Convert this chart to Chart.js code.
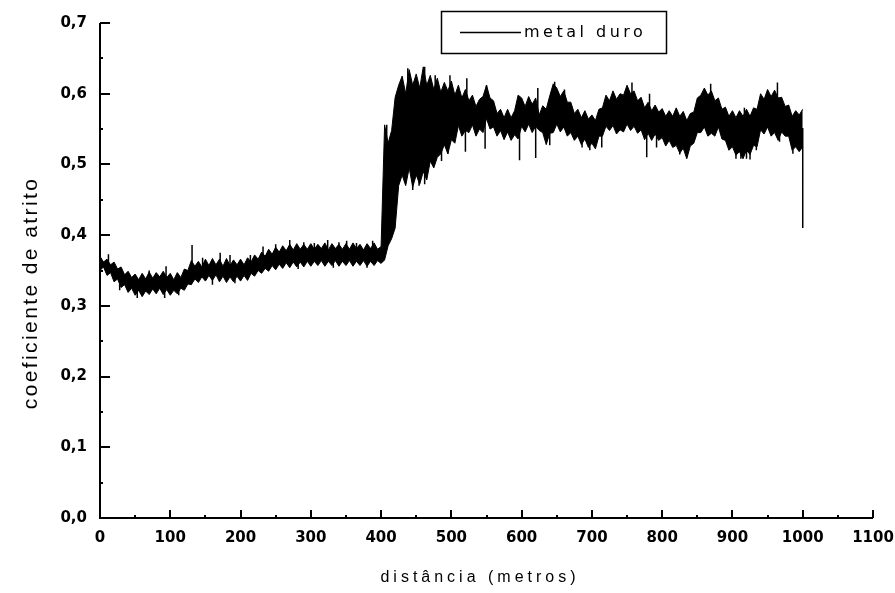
<!DOCTYPE html>
<html>
<head>
<meta charset="utf-8">
<script src="https://cdn.jsdelivr.net/npm/chart.js@4.4.1/dist/chart.umd.min.js"></script>
<style>
  body { margin: 0; background: #fff; }
  #box { width: 895px; height: 593px; }
</style>
</head>
<body>
<div id="box"><canvas id="grafico" width="895" height="593"></canvas></div>
<script>
// distancia em metros, amostrada a cada 5 m (0 .. 1000)
const passo = 5;
const distancia = Array.from({ length: 201 }, (_, i) => i * passo);

// limite superior da faixa de ruido do coeficiente de atrito
const atritoSup = [
  0.370, 0.362, 0.366, 0.358, 0.362, 0.352, 0.355, 0.344, 0.349, 0.340,
  0.345, 0.337, 0.346, 0.338, 0.348, 0.339, 0.347, 0.341, 0.349, 0.340,
  0.346, 0.337, 0.347, 0.340, 0.352, 0.350, 0.364, 0.356, 0.363, 0.355,
  0.366, 0.357, 0.367, 0.358, 0.366, 0.356, 0.367, 0.357, 0.365, 0.358,
  0.366, 0.358, 0.368, 0.362, 0.372, 0.366, 0.376, 0.370, 0.380, 0.373,
  0.383, 0.376, 0.385, 0.378, 0.387, 0.379, 0.388, 0.380, 0.387, 0.380,
  0.388, 0.380, 0.387, 0.381, 0.389, 0.379, 0.388, 0.381, 0.387, 0.380,
  0.388, 0.380, 0.389, 0.381, 0.387, 0.379, 0.388, 0.381, 0.389, 0.380,
  0.384, 0.556, 0.530, 0.548, 0.595, 0.612, 0.625, 0.600, 0.634, 0.612,
  0.628, 0.608, 0.638, 0.612, 0.626, 0.606, 0.622, 0.602, 0.616, 0.604,
  0.618, 0.598, 0.612, 0.594, 0.606, 0.590, 0.598, 0.582, 0.592, 0.596,
  0.612, 0.594, 0.590, 0.572, 0.578, 0.566, 0.578, 0.566, 0.576, 0.598,
  0.594, 0.582, 0.596, 0.585, 0.594, 0.570, 0.583, 0.578, 0.597, 0.614,
  0.608, 0.596, 0.604, 0.588, 0.588, 0.572, 0.578, 0.566, 0.576, 0.564,
  0.570, 0.562, 0.578, 0.580, 0.598, 0.590, 0.604, 0.592, 0.600, 0.598,
  0.612, 0.600, 0.604, 0.590, 0.595, 0.580, 0.588, 0.576, 0.584, 0.574,
  0.579, 0.568, 0.576, 0.568, 0.580, 0.568, 0.575, 0.562, 0.572, 0.574,
  0.594, 0.598, 0.608, 0.598, 0.604, 0.590, 0.594, 0.578, 0.581, 0.568,
  0.576, 0.566, 0.576, 0.568, 0.578, 0.568, 0.580, 0.578, 0.600, 0.592,
  0.606, 0.596, 0.605, 0.594, 0.595, 0.582, 0.584, 0.568, 0.576, 0.570,
  0.578
];

// limite inferior da faixa
const atritoInf = [
  0.350, 0.355, 0.343, 0.347, 0.334, 0.338, 0.326, 0.330, 0.319, 0.325,
  0.315, 0.322, 0.313, 0.321, 0.316, 0.324, 0.317, 0.325, 0.316, 0.323,
  0.315, 0.322, 0.317, 0.325, 0.322, 0.331, 0.330, 0.338, 0.333, 0.341,
  0.335, 0.343, 0.336, 0.344, 0.334, 0.342, 0.333, 0.341, 0.334, 0.342,
  0.335, 0.343, 0.336, 0.346, 0.342, 0.350, 0.346, 0.353, 0.349, 0.357,
  0.351, 0.359, 0.353, 0.361, 0.354, 0.362, 0.355, 0.362, 0.355, 0.363,
  0.356, 0.363, 0.357, 0.364, 0.356, 0.363, 0.357, 0.364, 0.356, 0.363,
  0.357, 0.364, 0.356, 0.363, 0.357, 0.364, 0.356, 0.363, 0.357, 0.364,
  0.360, 0.365, 0.385, 0.395, 0.410, 0.470, 0.485, 0.470, 0.495, 0.468,
  0.485, 0.472, 0.490, 0.478, 0.505, 0.495, 0.510, 0.515, 0.528, 0.515,
  0.535, 0.530, 0.555, 0.540, 0.548, 0.545, 0.556, 0.540, 0.550, 0.545,
  0.565, 0.550, 0.553, 0.540, 0.548, 0.535, 0.546, 0.534, 0.542, 0.536,
  0.554, 0.546, 0.557, 0.545, 0.554, 0.548, 0.545, 0.528, 0.544, 0.545,
  0.557, 0.546, 0.553, 0.540, 0.545, 0.534, 0.540, 0.528, 0.536, 0.524,
  0.530, 0.522, 0.540, 0.540, 0.554, 0.548, 0.555, 0.543, 0.549, 0.546,
  0.557, 0.548, 0.554, 0.544, 0.549, 0.535, 0.544, 0.534, 0.543, 0.534,
  0.538, 0.526, 0.534, 0.524, 0.527, 0.516, 0.523, 0.508, 0.526, 0.530,
  0.545, 0.545, 0.553, 0.540, 0.544, 0.540, 0.553, 0.536, 0.534, 0.520,
  0.525, 0.513, 0.518, 0.508, 0.520, 0.514, 0.527, 0.525, 0.549, 0.543,
  0.553, 0.540, 0.545, 0.534, 0.546, 0.540, 0.540, 0.520, 0.525, 0.518,
  0.525
];

// picos isolados (distancia, valor extremo)
const picosX = [12, 28, 53, 70, 92, 94, 112, 131, 146, 160, 171, 185, 192, 214,
  232, 250, 270, 282, 290, 305, 324, 332, 340, 351, 365, 380, 388,
  408, 438, 445, 454, 462, 462, 477, 486, 495, 498, 520, 522, 548, 550,
  597, 620, 623, 640, 647, 661, 686, 697, 714, 757, 778, 782, 792,
  825, 835, 869, 905, 912, 917, 920, 925, 934, 964, 967, 986, 1000];
const picosY = [0.373, 0.322, 0.311, 0.350, 0.311, 0.356, 0.315, 0.386, 0.368, 0.330, 0.375, 0.372, 0.332, 0.372,
  0.384, 0.387, 0.393, 0.352, 0.390, 0.389, 0.393, 0.354, 0.390, 0.392, 0.389, 0.354, 0.392,
  0.556, 0.636, 0.464, 0.470, 0.472, 0.638, 0.626, 0.505, 0.515, 0.626, 0.518, 0.622, 0.522, 0.612,
  0.506, 0.509, 0.608, 0.527, 0.617, 0.606, 0.524, 0.520, 0.524, 0.616, 0.510, 0.600, 0.524,
  0.514, 0.510, 0.614, 0.508, 0.508, 0.580, 0.508, 0.507, 0.520, 0.616, 0.532, 0.515, 0.410];

const yTicks = [0, 0.1, 0.2, 0.3, 0.4, 0.5, 0.6, 0.7];
const xTicks = [0, 100, 200, 300, 400, 500, 600, 700, 800, 900, 1000, 1100];

const serieSup = distancia.map((d, i) => ({ x: d, y: atritoSup[i] }));
const serieInf = distancia.map((d, i) => ({ x: d, y: atritoInf[i] }));

const seriePicos = [];
picosX.forEach((d, i) => {
  const k = Math.round(d / passo);
  const meio = (atritoSup[k] + atritoInf[k]) / 2;
  seriePicos.push({ x: d, y: meio }, { x: d, y: picosY[i] }, { x: d, y: null });
});

function rotuloY(v) {
  const r = Math.round(v * 100);
  if (r % 10 !== 0) return '';
  return (r / 100).toFixed(1).replace('.', ',');
}

function rotuloX(v) {
  return Math.round(v) % 100 === 0 ? String(v) : '';
}

// eixos com marcas para dentro, titulos e legenda
const eixosPlugin = {
  id: 'eixos',
  afterDraw(chart) {
    const ctx = chart.ctx;
    const a = chart.chartArea;
    const xs = chart.scales.x, ys = chart.scales.y;
    ctx.save();
    ctx.strokeStyle = '#000';
    ctx.lineWidth = 2;
    ctx.beginPath();
    ctx.moveTo(a.left, a.top);
    ctx.lineTo(a.left, a.bottom);
    ctx.lineTo(a.right, a.bottom);
    ctx.stroke();

    for (let v = 0; v <= 0.7001; v += 0.05) {
      const y = Math.round(ys.getPixelForValue(v));
      const major = Math.round(v * 100) % 10 === 0;
      ctx.beginPath();
      ctx.moveTo(a.left, y);
      ctx.lineTo(a.left + (major ? 10 : 3), y);
      ctx.stroke();
    }
    for (let v = 50; v <= 1100; v += 50) {
      const x = Math.round(xs.getPixelForValue(v));
      const major = v % 100 === 0;
      ctx.beginPath();
      ctx.moveTo(x, a.bottom);
      ctx.lineTo(x, a.bottom - (major ? 8 : 3));
      ctx.stroke();
    }

    ctx.fillStyle = '#000';
    ctx.font = '21px "Liberation Sans", Arial, sans-serif';
    ctx.letterSpacing = '2.4px';
    ctx.textAlign = 'center';
    ctx.textBaseline = 'middle';
    ctx.save();
    ctx.translate(31, 293);
    ctx.rotate(-Math.PI / 2);
    ctx.fillText('coeficiente de atrito', 0, 0);
    ctx.restore();

    ctx.font = '16px "Liberation Sans", Arial, sans-serif';
    ctx.letterSpacing = '4px';
    ctx.fillText('distância (metros)', 480, 578);

    ctx.letterSpacing = '3.5px';
    ctx.lineWidth = 1.5;
    ctx.strokeRect(441.5, 11.5, 225, 42);
    ctx.beginPath();
    ctx.moveTo(460, 32.5);
    ctx.lineTo(521, 32.5);
    ctx.stroke();
    ctx.font = '16px "DejaVu Sans", sans-serif';
    ctx.textAlign = 'left';
    ctx.fillText('metal duro', 524, 33);
    ctx.restore();
  }
};

new Chart(document.getElementById('grafico'), {
  type: 'line',
  data: {
    datasets: [
      {
        label: 'metal duro',
        data: serieSup,
        borderColor: '#000',
        backgroundColor: '#000',
        borderWidth: 1,
        pointRadius: 0,
        fill: '+1'
      },
      {
        label: 'inf',
        data: serieInf,
        borderColor: '#000',
        borderWidth: 1,
        pointRadius: 0,
        fill: false
      },
      {
        label: 'picos',
        data: seriePicos,
        borderColor: '#000',
        borderWidth: 1.5,
        pointRadius: 0,
        fill: false,
        spanGaps: false
      }
    ]
  },
  options: {
    responsive: false,
    animation: false,
    layout: { padding: { top: 23, right: 22, left: 0, bottom: 0 } },
    plugins: {
      legend: { display: false },
      tooltip: { enabled: false }
    },
    scales: {
      x: {
        type: 'linear',
        min: 0,
        max: 1100,
        afterFit(s) { s.height = 75; s.paddingRight = 0; s.paddingLeft = 0; },
        afterBuildTicks(s) { s.ticks = xTicks.map(v => ({ value: v })); },
        grid: { display: false, drawTicks: false },
        border: { display: false },
        ticks: {
          autoSkip: false,
          maxRotation: 0,
          padding: 11,
          color: '#000',
          font: { family: 'DejaVu Sans', size: 15, weight: 'bold' },
          callback: rotuloX
        }
      },
      y: {
        min: 0,
        max: 0.7,
        afterFit(s) { s.width = 100; s.paddingTop = 0; s.paddingBottom = 0; },
        afterBuildTicks(s) { s.ticks = yTicks.map(v => ({ value: v })); },
        grid: { display: false, drawTicks: false },
        border: { display: false },
        ticks: {
          autoSkip: false,
          padding: 13,
          color: '#000',
          font: { family: 'DejaVu Sans', size: 15, weight: 'bold' },
          callback: rotuloY
        }
      }
    }
  },
  plugins: [eixosPlugin]
});
</script>
</body>
</html>
